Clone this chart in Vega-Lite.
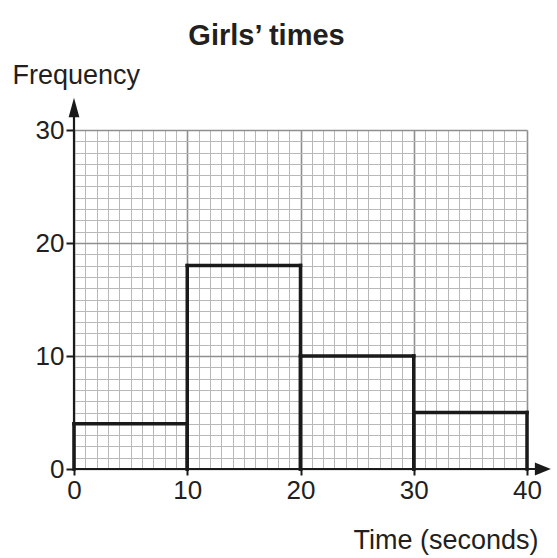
{
  "$schema": "https://vega.github.io/schema/vega-lite/v6.json",
  "width": 453,
  "height": 339,
  "autosize": {"type": "none"},
  "padding": {"left": 74, "top": 130, "right": 30, "bottom": 89},
  "background": "white",
  "config": {"view": {"stroke": null}, "font": "Liberation Sans"},
  "title": {
    "text": "Girls’ times",
    "font": "Liberation Sans",
    "fontSize": 29,
    "fontWeight": "bold",
    "color": "#231f20",
    "anchor": "middle",
    "dx": -34,
    "offset": 10
  },
  "datasets": {
    "bars": [
      {"start": 0, "end": 10, "freq": 4},
      {"start": 10, "end": 20, "freq": 18},
      {"start": 20, "end": 30, "freq": 10},
      {"start": 30, "end": 40, "freq": 5}
    ]
  },
  "layer": [
    {
      "data": {"name": "bars"},
      "mark": {"type": "rule", "stroke": "#1a1a1a", "strokeWidth": 3.5, "strokeCap": "square"},
      "encoding": {
        "x": {
          "field": "start", "type": "quantitative",
          "scale": {"domain": [0, 40], "nice": false, "zero": false},
          "axis": {
            "values": [0,1,2,3,4,5,6,7,8,9,10,11,12,13,14,15,16,17,18,19,20,21,22,23,24,25,26,27,28,29,30,31,32,33,34,35,36,37,38,39,40],
            "tickCount": 200,
            "format": "d",
            "labelExpr": "datum.value % 10 === 0 ? datum.label : ''",
            "labelOverlap": false,
            "labelFlush": false,
            "labelFont": "Liberation Sans",
            "labelFontSize": 26,
            "labelColor": "#231f20",
            "labelPadding": 2,
            "domain": false,
            "grid": true,
            "gridColor": {"condition": {"test": "datum.value % 10 === 0", "value": "#8f8f8f"}, "value": "#b8b8b8"},
            "gridWidth": {"condition": {"test": "datum.value % 10 === 0", "value": 1.6}, "value": 1},
            "gridOpacity": 1,
            "ticks": true,
            "tickColor": "#1a1a1a",
            "tickWidth": 2,
            "tickSize": 6,
            "tickOpacity": {"condition": {"test": "datum.value % 10 === 0", "value": 1}, "value": 0},
            "title": "Time (seconds)",
            "titleFont": "Liberation Sans",
            "titleFontSize": 27,
            "titleFontWeight": "normal",
            "titleColor": "#231f20",
            "titleAlign": "right",
            "titleBaseline": "alphabetic",
            "titleX": 464,
            "titleY": 79
          }
        },
        "y": {
          "field": "freq", "type": "quantitative",
          "scale": {"domain": [0, 30], "nice": false, "zero": false},
          "axis": {
            "values": [0,1,2,3,4,5,6,7,8,9,10,11,12,13,14,15,16,17,18,19,20,21,22,23,24,25,26,27,28,29,30],
            "tickCount": 200,
            "format": "d",
            "labelExpr": "datum.value % 10 === 0 ? datum.label : ''",
            "labelOverlap": false,
            "labelFlush": false,
            "labelFont": "Liberation Sans",
            "labelFontSize": 26,
            "labelColor": "#231f20",
            "labelPadding": 2,
            "domain": false,
            "grid": true,
            "gridColor": {"condition": {"test": "datum.value % 10 === 0", "value": "#8f8f8f"}, "value": "#b8b8b8"},
            "gridWidth": {"condition": {"test": "datum.value % 10 === 0", "value": 1.6}, "value": 1},
            "gridOpacity": 1,
            "ticks": true,
            "tickColor": "#1a1a1a",
            "tickWidth": 2,
            "tickSize": 8,
            "tickOpacity": {"condition": {"test": "datum.value % 10 === 0", "value": 1}, "value": 0},
            "title": "Frequency",
            "titleFont": "Liberation Sans",
            "titleFontSize": 27,
            "titleFontWeight": "normal",
            "titleColor": "#231f20",
            "titleAngle": 0,
            "titleAlign": "left",
            "titleBaseline": "alphabetic",
            "titleX": -62,
            "titleY": -47
          }
        },
        "y2": {"datum": 0}
      }
    },
    {
      "data": {"name": "bars"},
      "mark": {"type": "rule", "stroke": "#1a1a1a", "strokeWidth": 3.5, "strokeCap": "square"},
      "encoding": {
        "x": {"field": "end", "type": "quantitative"},
        "y": {"field": "freq", "type": "quantitative"},
        "y2": {"datum": 0}
      }
    },
    {
      "data": {"name": "bars"},
      "mark": {"type": "rule", "stroke": "#1a1a1a", "strokeWidth": 3.5, "strokeCap": "square"},
      "encoding": {
        "x": {"field": "start", "type": "quantitative"},
        "x2": {"field": "end"},
        "y": {"field": "freq", "type": "quantitative"}
      }
    },
    {
      "data": {"values": [{"x": 0, "x2": 41.4, "y": 0, "y2": 0}, {"x": 0, "x2": 0, "y": 0, "y2": 32}]},
      "mark": {"type": "rule", "stroke": "#1a1a1a", "strokeWidth": 2.2},
      "encoding": {
        "x": {"field": "x", "type": "quantitative"},
        "x2": {"field": "x2"},
        "y": {"field": "y", "type": "quantitative"},
        "y2": {"field": "y2"}
      }
    },
    {
      "data": {"values": [{"x": 41.4, "y": 0}]},
      "mark": {"type": "point", "shape": "M1,0L-1,0.8L-1,-0.8Z", "size": 256, "filled": true, "fill": "#1a1a1a", "opacity": 1, "strokeWidth": 0},
      "encoding": {
        "x": {"field": "x", "type": "quantitative"},
        "y": {"field": "y", "type": "quantitative"}
      }
    },
    {
      "data": {"values": [{"x": 0, "y": 32}]},
      "mark": {"type": "point", "shape": "M0,-1L0.55,1L-0.55,1Z", "size": 380, "filled": true, "fill": "#1a1a1a", "opacity": 1, "strokeWidth": 0},
      "encoding": {
        "x": {"field": "x", "type": "quantitative"},
        "y": {"field": "y", "type": "quantitative"}
      }
    }
  ]
}
